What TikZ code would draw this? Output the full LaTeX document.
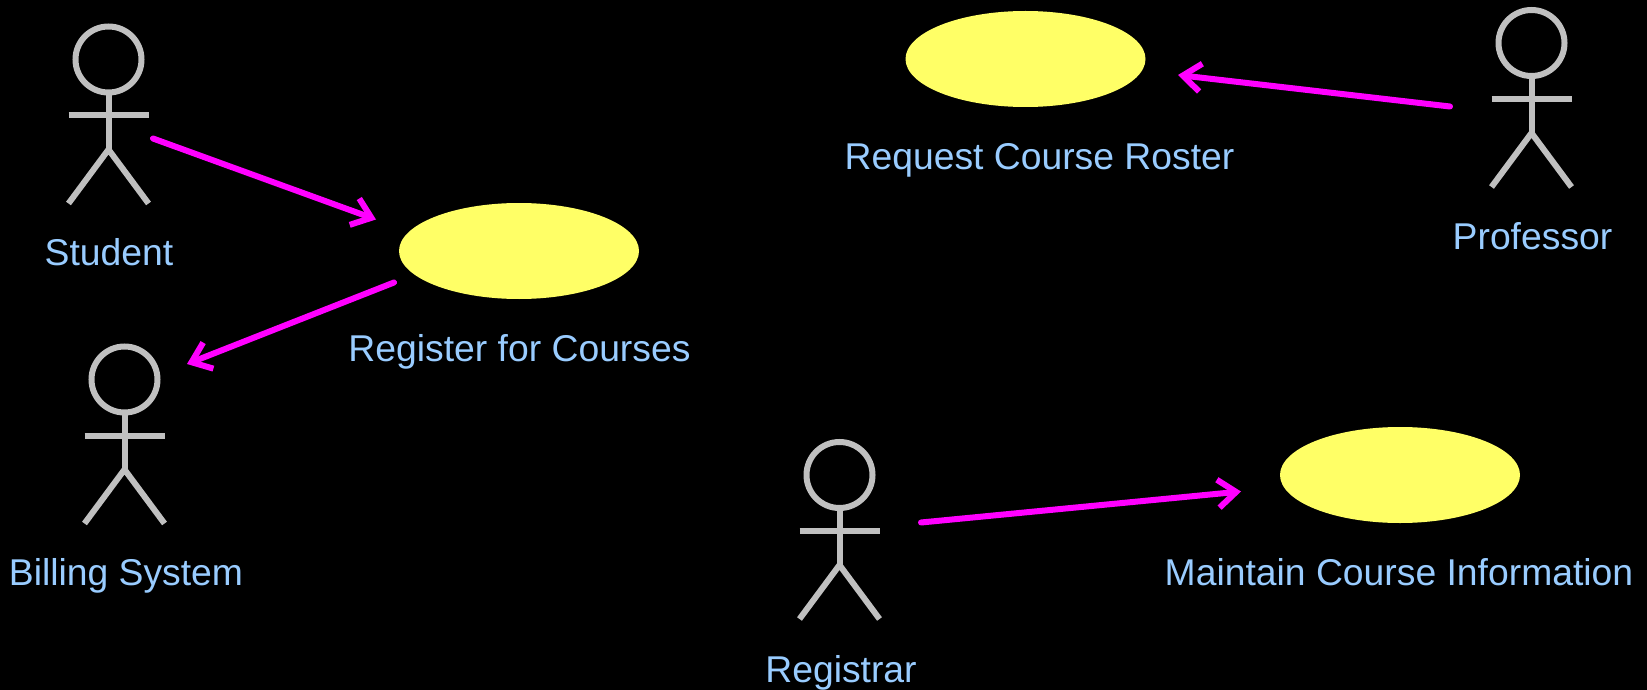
\documentclass[tikz,border=0pt]{standalone}
\usepackage{fontspec}
\setmainfont{Liberation Sans}
\usetikzlibrary{arrows.meta,shapes.geometric}
\definecolor{lbl}{HTML}{99CCFF}
\definecolor{uc}{HTML}{FFFF66}
\definecolor{act}{HTML}{C0C0C0}
\definecolor{connc}{HTML}{FF00FF}
\tikzset{x=1pt,y=-1pt,
 usecase/.style={ellipse,fill=uc,minimum width=240pt,minimum height=96pt,inner sep=0pt},
 lab/.style={text=lbl,font=\fontsize{37.3}{40}\selectfont,inner sep=0pt,anchor=base},
 connl/.style={draw=connc,line width=6pt,line cap=round,-{Straight Barb[length=18pt,width=28pt,line width=6pt]}},
 limb/.style={draw=act,line width=6pt},
}
\newcommand{\actor}[3]{%
 \coordinate (#3) at (#1,#2);
 \draw[limb] (#1,#2) circle (33pt);
 \draw[limb] (#1,#2+33) -- (#1,#2+90);
 \draw[limb] (#1-40,#2+56) -- (#1+40,#2+56);
 \draw[limb] (#1-40,#2+144) -- (#1,#2+90) -- (#1+40,#2+144);
}
\begin{document}
\begin{tikzpicture}
\useasboundingbox[fill=black] (0,0) rectangle (1647,690);
\actor{108.5}{59.5}{student}
\actor{124.5}{379.5}{billing}
\actor{1531.5}{43}{prof}
\actor{839.5}{475}{registrar}
\node[usecase] (reg) at (519,251) {};
\node[usecase] (req) at (1025.5,59) {};
\node[usecase] (maint) at (1400,475) {};
\node[lab] (l1) at (109,265) {Student};
\node[lab] (l2) at (126,585) {Billing System};
\node[lab] (l3) at (519.5,361) {Register for Courses};
\node[lab] (l4) at (1039.5,169) {Request Course Roster};
\node[lab] (l5) at (1532.5,249) {Professor};
\node[lab] (l6) at (1399,585) {Maintain Course Information};
\node[lab] (l7) at (841,682) {Registrar};
\coordinate (a1) at (153,138.5); \coordinate (b1) at (376,219.5);
\coordinate (a2) at (394,282.5); \coordinate (b2) at (187,364);
\coordinate (a3) at (1450,106.5); \coordinate (b3) at (1178,75);
\coordinate (a4) at (921,522.5); \coordinate (b4) at (1241,491.5);
\draw[connl] (a1) -- (b1);
\draw[connl] (a2) -- (b2);
\draw[connl] (a3) -- (b3);
\draw[connl] (a4) -- (b4);
\end{tikzpicture}
\end{document}
